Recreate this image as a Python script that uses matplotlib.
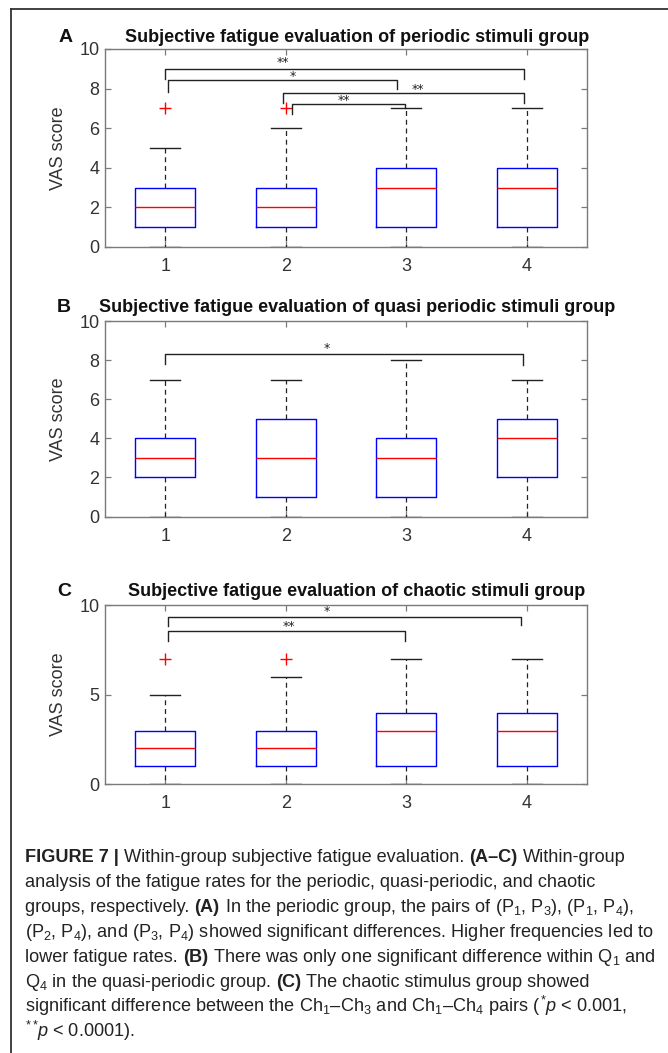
import numpy as np
import matplotlib
matplotlib.use('Agg')
import matplotlib.pyplot as plt
from matplotlib import font_manager
from matplotlib.lines import Line2D

names = {f.name for f in font_manager.fontManager.ttflist}
narrow = 'Liberation Sans Narrow' if 'Liberation Sans Narrow' in names else 'Liberation Sans'
plt.rcParams['font.family'] = [narrow, 'DejaVu Sans']
plt.rcParams['mathtext.fontset'] = 'custom'
plt.rcParams['mathtext.rm'] = narrow
plt.rcParams['mathtext.it'] = narrow + ':italic'

# box statistics (VAS score, groups 1-4)
groups = [1, 2, 3, 4]

A_q1 = [1, 1, 1, 1]
A_med = [2, 2, 3, 3]
A_q3 = [3, 3, 4, 4]
A_lo = [0, 0, 0, 0]
A_hi = [5, 6, 7, 7]
A_fliers = [[7], [7], [], []]

B_q1 = [2, 1, 1, 2]
B_med = [3, 3, 3, 4]
B_q3 = [4, 5, 4, 5]
B_lo = [0, 0, 0, 0]
B_hi = [7, 7, 8, 7]
B_fliers = [[], [], [], []]

C_q1 = [1, 1, 1, 1]
C_med = [2, 2, 3, 3]
C_q3 = [3, 3, 4, 4]
C_lo = [0, 0, 0, 0]
C_hi = [5, 6, 7, 7]
C_fliers = [[7], [7], [], []]

# significance brackets: x left, x right, y bar, y left end, y right end, label, label x, label y
A_sig = [(1.0, 3.98, 9.0, 8.5, 8.5, '**', 1.98, 9.3),
         (1.02, 2.92, 8.41, 7.84, 7.96, '*', 2.06, 8.62),
         (1.98, 3.98, 7.79, 7.25, 7.28, '**', 3.1, 7.95),
         (2.05, 2.99, 7.23, 6.74, 7.0, '**', 2.48, 7.42)]
B_sig = [(1.0, 3.97, 8.3, 7.82, 7.74, '*', 2.34, 8.6)]
C_sig = [(1.02, 3.95, 9.33, 8.84, 8.9, '*', 2.34, 9.62),
         (1.02, 2.99, 8.53, 8.01, 8.01, '**', 2.03, 8.8)]

titles = ['Subjective fatigue evaluation of periodic stimuli group',
          'Subjective fatigue evaluation of quasi periodic stimuli group',
          'Subjective fatigue evaluation of chaotic stimuli group']
letters = ['A', 'B', 'C']
yticks = [[0, 2, 4, 6, 8, 10], [0, 2, 4, 6, 8, 10], [0, 5, 10]]

W, H = 668, 1053
fig = plt.figure(figsize=(W / 100, H / 100), dpi=100)

# axes boxes in pixels: left, top, right, bottom
boxes = [(105, 49, 587, 247), (105, 321, 587, 516.5), (105, 605, 587, 784.3)]
title_y = [37, 307, 592]
letter_x = [66, 64, 64]

panels = [(A_q1, A_med, A_q3, A_lo, A_hi, A_fliers, A_sig),
          (B_q1, B_med, B_q3, B_lo, B_hi, B_fliers, B_sig),
          (C_q1, C_med, C_q3, C_lo, C_hi, C_fliers, C_sig)]

axc = '#7a7a7a'
for i, (q1, med, q3, lo, hi, fl, sig) in enumerate(panels):
    l, t, r, b = boxes[i]
    ax = fig.add_axes([l / W, 1 - b / H, (r - l) / W, (b - t) / H])
    stats = []
    for k in range(4):
        stats.append(dict(q1=q1[k], med=med[k], q3=q3[k], whislo=lo[k], whishi=hi[k], fliers=fl[k]))
    ax.bxp(stats, positions=groups, widths=0.5, showfliers=True,
           boxprops=dict(color='#0000ff', lw=1.0),
           medianprops=dict(color='#ff0000', lw=1.0),
           whiskerprops=dict(color='#222222', lw=0.9, linestyle=(0, (4, 3))),
           capprops=dict(color='#222222', lw=1.0),
           flierprops=dict(marker='+', markeredgecolor='#ff0000', markersize=9, markeredgewidth=1.0))
    for (x1, x2, yb, y1, y2, lab, lx, ly) in sig:
        ax.plot([x1, x1, x2, x2], [y1, yb, yb, y2], color='#222222', lw=1.0, clip_on=False)
        ax.text(lx, ly, lab, ha='center', va='center', fontsize=9, color='#222222',
                family='DejaVu Sans')
    ax.set_xlim(0.5, 4.5)
    ax.set_ylim(0, 10)
    ax.set_xticks(groups)
    ax.set_xticklabels([str(g) for g in groups])
    ax.set_yticks(yticks[i])
    ax.tick_params(direction='in', top=True, right=True, length=4, width=0.9,
                   colors=axc, labelcolor='#333333', labelsize=13)
    ax.tick_params(axis='x', pad=8)
    ax.tick_params(axis='y', pad=4)
    for s in ax.spines.values():
        s.set_color(axc)
        s.set_linewidth(1.0)
    ax.set_ylabel('VAS score', fontsize=13, color='#333333',
                  family=['Liberation Sans', 'DejaVu Sans'])
    ax.yaxis.set_label_coords(-(105 - 67) / (r - l), 0.5)
    fig.text(357 / W, 1 - title_y[i] / H, titles[i], ha='center', va='center',
             fontsize=13, fontweight='bold', color='#111111')
    fig.text(letter_x[i] / W, 1 - title_y[i] / H, letters[i], ha='center', va='center',
             fontsize=14, fontweight='bold', color='#111111',
             family=['Liberation Sans', 'DejaVu Sans'])

# frame around the figure
fig.add_artist(Line2D([10.6 / W, 10.6 / W], [0, 1 - 8.5 / H], color='#333333', lw=1.3))
fig.add_artist(Line2D([10.6 / W, 1], [1 - 8.5 / H, 1 - 8.5 / H], color='#333333', lw=1.3))

caption = [
    [('FIGURE 7 |', True), (' Within-group subjective fatigue evaluation. ', False), ('(A\u2013C)', True), (' Within-group', False)],
    [('analysis of the fatigue rates for the periodic, quasi-periodic, and chaotic', False)],
    [('groups, respectively. ', False), ('(A)', True), (' In the periodic group, the pairs of (P$_1$, P$_3$), (P$_1$, P$_4$),', False)],
    [('(P$_2$, P$_4$), and (P$_3$, P$_4$) showed significant differences. Higher frequencies led to', False)],
    [('lower fatigue rates. ', False), ('(B)', True), (' There was only one significant difference within Q$_1$ and', False)],
    [('Q$_4$ in the quasi-periodic group. ', False), ('(C)', True), (' The chaotic stimulus group showed', False)],
    [('significant difference between the Ch$_1$\u2013Ch$_3$ and Ch$_1$\u2013Ch$_4$ pairs ($^*\\!p$ < 0.001,', False)],
    [('$^{**}\\!p$ < 0.0001).', False)],
]

fig.canvas.draw()
renderer = fig.canvas.get_renderer()


def text_width(txt, fs, bold):
    t = fig.text(0, 0, txt, fontsize=fs, fontweight='bold' if bold else 'normal')
    w = t.get_window_extent(renderer).width
    t.remove()
    return w


def lay_line(line, fs, x0, y, draw):
    space = text_width('a a', fs, False) - text_width('aa', fs, False)
    x = x0
    for txt, bold in line:
        lead = len(txt) - len(txt.lstrip(' '))
        trail = len(txt) - len(txt.rstrip(' '))
        core = txt.strip(' ')
        x += lead * space
        if draw:
            fig.text(x / W, y, core, ha='left', va='baseline', fontsize=fs,
                     fontweight='bold' if bold else 'normal', color='#222222')
        x += text_width(core, fs, bold) + trail * space
    return x - x0


# fit caption size so the first line spans the same width as in the figure
fs0 = 14
cap_fs = fs0 * 602 / lay_line(caption[0], fs0, 0, 0, False)
cap_y0 = 862
cap_dy = 25
for n, line in enumerate(caption):
    lay_line(line, cap_fs, 25, 1 - (cap_y0 + n * cap_dy) / H, True)

fig.savefig('out.png', dpi=100)
